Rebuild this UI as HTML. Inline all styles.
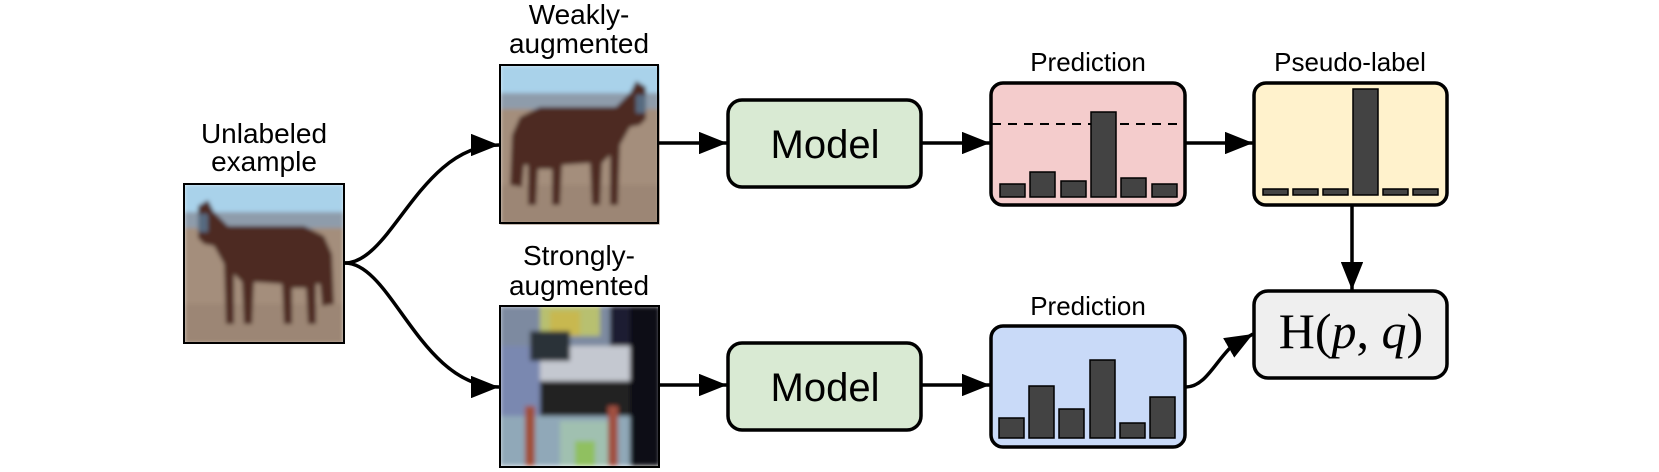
<!DOCTYPE html>
<html><head><meta charset="utf-8"><style>
html,body{margin:0;padding:0;background:#fff;width:1659px;height:472px;overflow:hidden}
svg{display:block}
text{font-family:"Liberation Sans",Arial,sans-serif;fill:#000}
</style></head><body>
<svg width="1659" height="472" viewBox="0 0 1659 472" xmlns="http://www.w3.org/2000/svg">
<defs>
<marker id="ah" viewBox="0 0 10 8" refX="10" refY="4" markerWidth="8" markerHeight="6.4" markerUnits="strokeWidth" orient="auto">
<path d="M0,0 L10,4 L0,8 z" fill="#000"/></marker>
<filter id="bl" x="0" y="0" width="1" height="1"><feGaussianBlur stdDeviation="2.2"/></filter>
<filter id="bl2" x="0" y="0" width="1" height="1"><feGaussianBlur stdDeviation="2.5"/></filter>
<clipPath id="c160"><rect x="0" y="0" width="160" height="160"/></clipPath>
<g id="horse">
<rect x="0" y="0" width="160" height="160" fill="#a48e7c"/>
<rect x="0" y="0" width="160" height="32" fill="#a9d2ea"/>
<rect x="0" y="28" width="160" height="16" fill="#8e9cab"/>
<rect x="0" y="120" width="160" height="40" fill="#9c8675"/>
<path d="M14,22 L24,16 L30,28 L44,42 L120,42 L140,52 L148,70 L150,120 L138,122 L136,100 L132,100 L132,140 L124,140 L122,104 L108,104 L108,140 L100,140 L98,100 L70,98 L68,140 L60,140 L58,98 L50,90 L50,140 L42,140 L40,80 L30,62 L20,60 L14,54 Z" fill="#4e2a22"/>
<rect x="14" y="30" width="10" height="18" fill="#566a80"/>
</g>
</defs>

<text x="264" y="143" font-size="28" text-anchor="middle">Unlabeled</text>
<text x="264" y="171" font-size="28" text-anchor="middle">example</text>
<g transform="translate(184,184)" clip-path="url(#c160)"><g filter="url(#bl)"><use href="#horse"/></g></g>
<rect x="184" y="184" width="160" height="159" fill="none" stroke="#000" stroke-width="2"/>

<text x="579" y="24" font-size="28" text-anchor="middle">Weakly-</text>
<text x="579" y="53" font-size="28" text-anchor="middle">augmented</text>
<g transform="translate(500,65)" clip-path="url(#c160)"><g filter="url(#bl)"><g transform="translate(160,0) scale(-1,1)"><use href="#horse"/></g></g></g>
<rect x="500" y="65" width="158" height="158" fill="none" stroke="#000" stroke-width="2"/>

<text x="579" y="265" font-size="28" text-anchor="middle">Strongly-</text>
<text x="579" y="295" font-size="28" text-anchor="middle">augmented</text>
<g transform="translate(500,306)" clip-path="url(#c160)"><g filter="url(#bl2)">
<rect x="0" y="0" width="160" height="160" fill="#1a1e30"/>
<rect x="0" y="0" width="110" height="50" fill="#7d8aa0"/>
<rect x="40" y="0" width="60" height="30" fill="#b8c070"/>
<rect x="50" y="5" width="30" height="25" fill="#c8b850"/>
<rect x="0" y="40" width="40" height="120" fill="#7a88b0"/>
<rect x="40" y="40" width="100" height="40" fill="#c4c8d0"/>
<rect x="30" y="25" width="40" height="30" fill="#2a3038"/>
<rect x="40" y="75" width="100" height="35" fill="#202420"/>
<rect x="0" y="110" width="130" height="50" fill="#90a8b8"/>
<rect x="60" y="115" width="50" height="45" fill="#a0c0b0"/>
<rect x="75" y="135" width="20" height="25" fill="#90c060"/>
<rect x="25" y="100" width="10" height="60" fill="#a05038"/>
<rect x="108" y="100" width="10" height="60" fill="#a05040"/>
<rect x="130" y="0" width="30" height="160" fill="#0c0e18"/>
</g></g>
<rect x="500" y="306" width="159" height="161" fill="none" stroke="#000" stroke-width="2"/>

<path d="M345,263 C392,263 420,145 499,145" fill="none" stroke="#000" stroke-width="3.5" marker-end="url(#ah)"/>
<path d="M345,263 C392,263 420,387 499,387" fill="none" stroke="#000" stroke-width="3.5" marker-end="url(#ah)"/>

<line x1="659" y1="143" x2="727" y2="143" stroke="#000" stroke-width="3.5" marker-end="url(#ah)"/>
<line x1="660" y1="385" x2="727" y2="385" stroke="#000" stroke-width="3.5" marker-end="url(#ah)"/>
<rect x="728" y="100" width="193" height="87" rx="14" fill="#d9ead3" stroke="#000" stroke-width="3.5"/>
<rect x="728" y="343" width="193" height="87" rx="14" fill="#d9ead3" stroke="#000" stroke-width="3.5"/>
<text x="825" y="158" font-size="40" text-anchor="middle">Model</text>
<text x="825" y="401" font-size="40" text-anchor="middle">Model</text>
<line x1="922" y1="143" x2="990" y2="143" stroke="#000" stroke-width="3.5" marker-end="url(#ah)"/>
<line x1="922" y1="385" x2="990" y2="385" stroke="#000" stroke-width="3.5" marker-end="url(#ah)"/>

<text x="1088" y="71" font-size="26" text-anchor="middle">Prediction</text>
<rect x="991" y="83" width="194" height="122" rx="12" fill="#f4cccc" stroke="#000" stroke-width="3.5"/>
<line x1="992" y1="124" x2="1184" y2="124" stroke="#000" stroke-width="2" stroke-dasharray="9,7"/>
<g fill="#434343" stroke="#000" stroke-width="1.5">
<rect x="1000" y="184" width="25" height="13"/>
<rect x="1030" y="172" width="25" height="25"/>
<rect x="1061" y="181" width="25" height="16"/>
<rect x="1091" y="112" width="25" height="85"/>
<rect x="1121" y="178" width="25" height="19"/>
<rect x="1152" y="184" width="25" height="13"/>
</g>
<line x1="1186" y1="143" x2="1253" y2="143" stroke="#000" stroke-width="3.5" marker-end="url(#ah)"/>

<text x="1350" y="71" font-size="26" text-anchor="middle">Pseudo-label</text>
<rect x="1254" y="83" width="193" height="122" rx="12" fill="#fff2cc" stroke="#000" stroke-width="3.5"/>
<g fill="#434343" stroke="#000" stroke-width="1.5">
<rect x="1263" y="189" width="25" height="6"/>
<rect x="1293" y="189" width="25" height="6"/>
<rect x="1323" y="189" width="25" height="6"/>
<rect x="1353" y="89" width="25" height="106"/>
<rect x="1383" y="189" width="25" height="6"/>
<rect x="1413" y="189" width="25" height="6"/>
</g>
<line x1="1352" y1="206" x2="1352" y2="290" stroke="#000" stroke-width="3.5" marker-end="url(#ah)"/>

<text x="1088" y="315" font-size="26" text-anchor="middle">Prediction</text>
<rect x="991" y="326" width="194" height="121" rx="12" fill="#c9daf8" stroke="#000" stroke-width="3.5"/>
<g fill="#434343" stroke="#000" stroke-width="1.5">
<rect x="999" y="418" width="25" height="20"/>
<rect x="1029" y="386" width="25" height="52"/>
<rect x="1059" y="409" width="25" height="29"/>
<rect x="1090" y="360" width="25" height="78"/>
<rect x="1120" y="423" width="25" height="15"/>
<rect x="1150" y="397" width="25" height="41"/>
</g>
<path d="M1186,387 C1205,387 1215,362 1232,346 L1253,334" fill="none" stroke="#000" stroke-width="3.5" marker-end="url(#ah)"/>

<rect x="1254" y="291" width="193" height="87" rx="14" fill="#efefef" stroke="#000" stroke-width="3.5"/>
<text x="1351" y="348" font-size="50" text-anchor="middle" style="font-family:'Liberation Serif',serif">H(<tspan font-style="italic">p</tspan>, <tspan font-style="italic">q</tspan>)</text>
</svg>
</body></html>
